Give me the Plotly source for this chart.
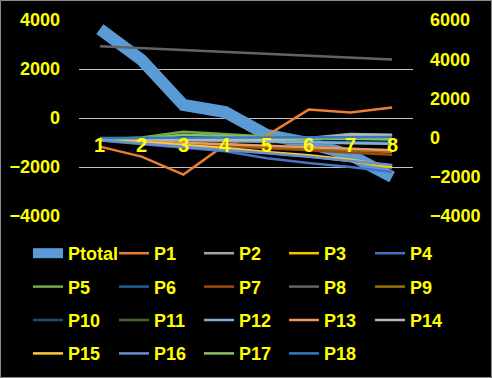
import plotly.graph_objects as go

categories = [1, 2, 3, 4, 5, 6, 7, 8]

# Primary (left) axis
ptotal = [3630, 2370, 530, 245, -690, -1020, -1510, -2410]

# Secondary (right) axis
p1 = [-460, -970, -1890, -360, 100, 1430, 1280, 1530]
p2 = [-150, -120, -100, -80, -60, -20, 180, 150]
p3 = [-100, -250, -400, -550, -770, -950, -1200, -1530]
p4 = [-150, -330, -520, -700, -1050, -1300, -1500, -1750]
p5 = [-100, 0, 300, 180, 50, -20, -50, -80]
p6 = [-80, -100, -120, -150, -180, -200, -230, -260]
p7 = [-120, -220, -330, -440, -550, -650, -760, -870]
p8 = [4660, 4560, 4470, 4380, 4280, 4180, 4080, 3980]
p9 = [-100, -180, -280, -380, -480, -560, -650, -740]
p10 = [-130, -200, -280, -350, -430, -500, -570, -640]
p11 = [-90, -110, -150, -190, -230, -260, -300, -330]
p12 = [-60, -80, -120, -160, -200, -240, -280, -320]
p13 = [-110, -190, -270, -350, -430, -500, -580, -650]
p14 = [-70, -80, -90, -100, -110, -80, 150, 120]
p15 = [-90, -230, -380, -530, -730, -900, -1130, -1450]
p16 = [-140, -300, -460, -620, -800, -980, -1180, -1400]
p17 = [-70, -60, 150, 80, 0, -40, -60, -80]
p18 = [-20, -10, 0, 0, 10, 10, 20, 30]

left_ticks = [-4000, -2000, 0, 2000, 4000]
right_ticks = [-4000, -2000, 0, 2000, 4000, 6000]

series = [
    ("Ptotal", ptotal, "#5B9BD5"),
    ("P1", p1, "#ED7D31"),
    ("P2", p2, "#A5A5A5"),
    ("P3", p3, "#FFC000"),
    ("P4", p4, "#4472C4"),
    ("P5", p5, "#70AD47"),
    ("P6", p6, "#255E91"),
    ("P7", p7, "#9E480E"),
    ("P8", p8, "#636363"),
    ("P9", p9, "#997300"),
    ("P10", p10, "#264478"),
    ("P11", p11, "#43682B"),
    ("P12", p12, "#7CAFDD"),
    ("P13", p13, "#F1975A"),
    ("P14", p14, "#B7B7B7"),
    ("P15", p15, "#FFCD33"),
    ("P16", p16, "#698ED0"),
    ("P17", p17, "#8CC168"),
    ("P18", p18, "#327DC2"),
]

W, H = 492, 378
ML, MR, MT, MB = 79, 79, 20, 162
PW, PH = W - ML - MR, H - MT - MB

def px_x(px):
    return (px - ML) / PW

def px_y(py):
    return (H - MB - py) / PH

YEL = "#FFFF00"
FONT = "Liberation Sans"

fig = go.Figure()
for i, (name, vals, col) in enumerate(series):
    colidx = i % 5
    leg = "legend" if colidx == 0 else f"legend{colidx + 1}"
    fig.add_trace(go.Scatter(
        x=categories, y=vals, name=name, mode="lines",
        line=dict(color=col, width=12 if i == 0 else 2.5),
        yaxis="y" if i == 0 else "y2",
        legend=leg, legendgroup=name,
    ))

for c in categories:
    fig.add_annotation(x=c, y=0, xref="x", yref="y2", text=str(c), showarrow=False,
                       yanchor="middle", yshift=-7,
                       font=dict(family=FONT, size=20, color=YEL, weight="bold"))

legend_cols = [28, 114, 199, 284, 370]
legend_top = 235
layout_legends = {}
for k, lx in enumerate(legend_cols):
    key = "legend" if k == 0 else f"legend{k + 1}"
    layout_legends[key] = dict(
        x=px_x(lx), xanchor="left", y=px_y(legend_top), yanchor="top",
        orientation="v", bgcolor="rgba(0,0,0,0)", borderwidth=0,
        traceorder="grouped", tracegroupgap=7,
        font=dict(family=FONT, size=18, color=YEL, weight="bold"),
    )

fig.update_layout(
    width=W, height=H,
    margin=dict(l=ML, r=MR, t=MT, b=MB, autoexpand=False),
    paper_bgcolor="#000000", plot_bgcolor="#000000",
    showlegend=True,
    xaxis=dict(range=[0.5, 8.5], showticklabels=False,
               showgrid=False, zeroline=False, showline=False, ticks=""),
    yaxis=dict(range=[-4000, 4000], tickvals=left_ticks, showgrid=True,
               gridcolor="#BFBFBF", gridwidth=1, zeroline=False, showline=False,
               ticks="", ticklabelstandoff=18,
               tickfont=dict(family=FONT, size=18, color=YEL, weight="bold")),
    yaxis2=dict(range=[-4000, 6000], tickvals=right_ticks, overlaying="y", side="right",
                showgrid=False, zeroline=False, showline=False, ticks="",
                ticklabelstandoff=16,
                tickfont=dict(family=FONT, size=18, color=YEL, weight="bold")),
    shapes=[dict(type="rect", xref="paper", yref="paper",
                 x0=px_x(0.5), x1=px_x(491.5), y0=px_y(377.5), y1=px_y(0.5),
                 line=dict(color="#8C8C8C", width=1), layer="below")],
    **layout_legends,
)

fig.write_html("out.html", config={"displayModeBar": False},
               post_script="document.body.style.margin='0';")
